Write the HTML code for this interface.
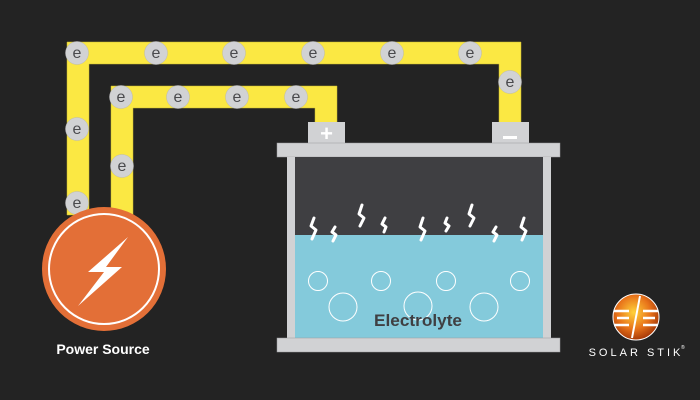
<!DOCTYPE html>
<html><head><style>body{margin:0;background:#222}svg{display:block}</style></head><body>
<svg width="700" height="400" viewBox="0 0 700 400" xmlns="http://www.w3.org/2000/svg">
<rect width="700" height="400" fill="#232323"/>
<defs>
<radialGradient id="lg" cx="0.45" cy="0.4" r="0.6"><stop offset="0" stop-color="#ffd23a"/><stop offset="0.6" stop-color="#e8731a"/><stop offset="1" stop-color="#a83a08"/></radialGradient>
</defs>
<g fill="#fbe843" stroke="#c8b830" stroke-width="0.5">
<path d="M67 42H521V123H499V64H89V215H67Z"/>
<path d="M111 86H337V123H315V108H133V215H111Z"/>
</g>
<!-- battery -->
<rect x="308" y="122" width="37" height="22" fill="#d1d2d4"/>
<rect x="492" y="122" width="37" height="22" fill="#d1d2d4"/>
<text x="326.5" y="141" font-family="Liberation Sans,sans-serif" font-weight="bold" font-size="22" fill="#fff" text-anchor="middle">+</text>
<rect x="503" y="136" width="14" height="3" fill="#fff"/>
<rect x="277" y="143" width="283" height="14" fill="#d1d2d4" stroke="#9a9a9c" stroke-width="0.5"/>
<rect x="287" y="157" width="264" height="182" fill="#d1d2d4"/>
<rect x="295" y="157" width="248" height="78" fill="#3f3f42"/>
<rect x="295" y="235" width="248" height="103" fill="#84cadb"/>
<rect x="277" y="338" width="283" height="14" fill="#d1d2d4" stroke="#9a9a9c" stroke-width="0.5"/>
<g fill="none" stroke="#fff" stroke-width="1">
<circle cx="318" cy="281" r="9.5"/><circle cx="381" cy="281" r="9.5"/><circle cx="446" cy="281" r="9.5"/><circle cx="520" cy="281" r="9.5"/>
<circle cx="343" cy="307" r="14"/><circle cx="418" cy="306" r="14"/><circle cx="484" cy="307" r="14"/>
</g>
<text x="418" y="326" font-family="Liberation Sans,sans-serif" font-weight="bold" font-size="17" fill="#3f3f42" text-anchor="middle" textLength="88" lengthAdjust="spacingAndGlyphs">Electrolyte</text>
<g fill="none" stroke="#fff" stroke-width="3" stroke-linecap="round" stroke-linejoin="round">
<path d="M314 218l-3 8 5 4-4 9"/><path d="M335 227l-3 5 4 3-3 6"/>
<path d="M362 205l-3 9 5 4-4 8"/><path d="M385 218l-3 6 4 3-2 5"/>
<path d="M423 218l-3 9 5 4-4 9"/><path d="M447 218l-2 5 4 3-3 5"/>
<path d="M472 205l-3 9 5 4-4 8"/><path d="M496 227l-3 5 4 3-3 6"/>
<path d="M524 218l-3 9 5 4-4 9"/>
</g>
<!-- electrons -->
<g fill="#d1d2d4" stroke="#b8b8ba" stroke-width="0.5">
<circle cx="77" cy="53" r="11.5"/><circle cx="156" cy="53" r="11.5"/><circle cx="234" cy="53" r="11.5"/><circle cx="313" cy="53" r="11.5"/><circle cx="392" cy="53" r="11.5"/><circle cx="470" cy="53" r="11.5"/>
<circle cx="510" cy="82" r="11.5"/><circle cx="77" cy="129" r="11.5"/><circle cx="77" cy="203" r="11.5"/>
<circle cx="121" cy="97" r="11.5"/><circle cx="178" cy="97" r="11.5"/><circle cx="237" cy="97" r="11.5"/><circle cx="296" cy="97" r="11.5"/>
<circle cx="122" cy="166" r="11.5"/>
</g>
<g font-family="Liberation Sans,sans-serif" font-size="16" fill="#4a4a4d" text-anchor="middle">
<text x="77" y="58">e</text><text x="156" y="58">e</text><text x="234" y="58">e</text><text x="313" y="58">e</text><text x="392" y="58">e</text><text x="470" y="58">e</text>
<text x="510" y="87">e</text><text x="77" y="134">e</text><text x="77" y="208">e</text>
<text x="121" y="102">e</text><text x="178" y="102">e</text><text x="237" y="102">e</text><text x="296" y="102">e</text>
<text x="122" y="171">e</text>
</g>
<!-- power source -->
<circle cx="104" cy="269" r="62" fill="#e36f37"/>
<circle cx="104" cy="269" r="55" fill="none" stroke="#fff" stroke-width="2"/>
<path d="M128 237L88 272H104L78 306L122 267H106Z" fill="#fff"/>
<text x="103" y="354" font-family="Liberation Sans,sans-serif" font-weight="bold" font-size="14" fill="#fff" text-anchor="middle">Power Source</text>
<!-- logo -->
<circle cx="636" cy="317" r="23" fill="url(#lg)" stroke="#fff" stroke-width="1"/>
<g stroke="#fff" stroke-width="2.5" fill="none">
<path d="M614 311h15M617 318h12M614 325h15"/><path d="M643 311h15M643 318h12M643 325h15"/>
<path d="M640 296l-8 42" stroke-width="2"/>
</g>
<text x="636" y="356" font-family="Liberation Sans,sans-serif" font-size="11" fill="#fff" text-anchor="middle" letter-spacing="3">SOLAR STIK</text>
<text x="681" y="349" font-family="Liberation Sans,sans-serif" font-size="5" fill="#fff">®</text>
</svg>
</body></html>
